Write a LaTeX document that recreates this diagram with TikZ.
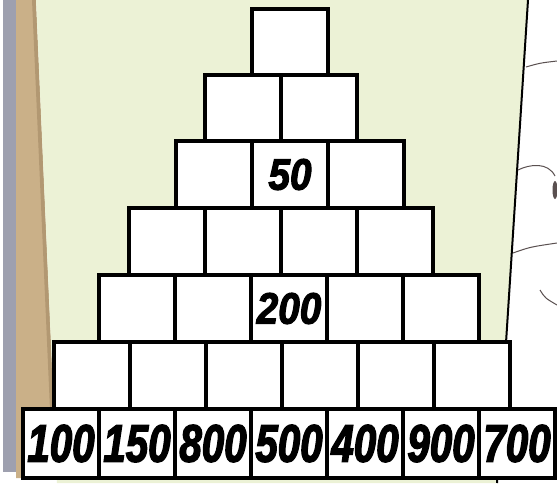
\documentclass[tikz,border=0pt]{standalone}
\usepackage{fontspec}
\usetikzlibrary{positioning}
\newfontfamily\bignum[FakeStretch=0.76, FakeBold=2.5]{Liberation Sans}
\newfontfamily\midnum[FakeStretch=0.88, FakeBold=2.5]{Liberation Sans}
\definecolor{panelGreen}{RGB}{236, 242, 214}
\definecolor{edgeTan}{RGB}{202, 176, 136}
\definecolor{edgeTanDark}{RGB}{150, 124, 88}
\definecolor{edgeGray}{RGB}{158, 160, 175}
\definecolor{sketchGray}{RGB}{90, 80, 80}

\begin{document}
\begin{tikzpicture}[
    x=1pt, y=-1pt,
    cell/.style={
        rectangle,
        draw=black,
        line width=4pt,
        fill=white,
        anchor=north west,
        outer sep=0pt,
        inner sep=0pt,
        minimum width=76pt
    },
    numBig/.style={
        font=\bignum\bfseries\itshape\fontsize{53}{53}\selectfont,
        inner sep=0pt
    },
    numMid/.style={
        font=\midnum\bfseries\itshape\fontsize{44}{44}\selectfont,
        inner sep=0pt
    },
    sketch/.style={
        draw=sketchGray,
        line width=1pt
    }
]
\useasboundingbox (0,0) rectangle (557,483);

% Backdrop
\fill[white] (0,0) rectangle (557,483);
\fill[edgeGray] (3,0) rectangle (16,472);
\fill[edgeTan] (16,0) -- (36,0) -- (57,478) -- (16,478) -- cycle;
\fill[edgeTanDark, opacity=0.45] (32,0) -- (36,0) -- (57,478) -- (53,478) -- cycle;
\fill[panelGreen] (36,0) -- (528,0) -- (497,483) -- (57,483) -- cycle;
\draw[line width=2pt] (528,0) -- (497,483);

% Sketch on the next page
\draw[sketch] (526,67) .. controls (540,63) .. (557,61);
\draw[sketch] (518,170) .. controls (530,164) and (548,162) .. (555,176);
\fill[sketchGray] (555,190) ellipse (2.5pt and 9pt);
\draw[sketch] (513,253) .. controls (530,247) .. (557,243);
\draw[sketch] (540,290) .. controls (545,298) .. (557,305);

% Pyramid cells
\foreach \r/\xl/\yt/\h in {1/252/9/66, 2/205/75/66, 3/176/141/67, 4/129/208/67,
                           5/99/275/67, 6/54/342/67, 7/23/409/69}
    \foreach \c in {1,...,\r}
        \node[cell, minimum height=\h pt] (cell-\r-\c) at ({\xl+(\c-1)*76}, \yt) {};

% Given numbers
\node[numMid] (num-3-2) at (cell-3-2) {50};
\node[numMid] (num-5-3) at (cell-5-3) {200};
\foreach \v [count=\c] in {100,150,800,500,400,900,700}
    \node[numBig] (num-7-\c) at (cell-7-\c) {\v};

\end{tikzpicture}
\end{document}
